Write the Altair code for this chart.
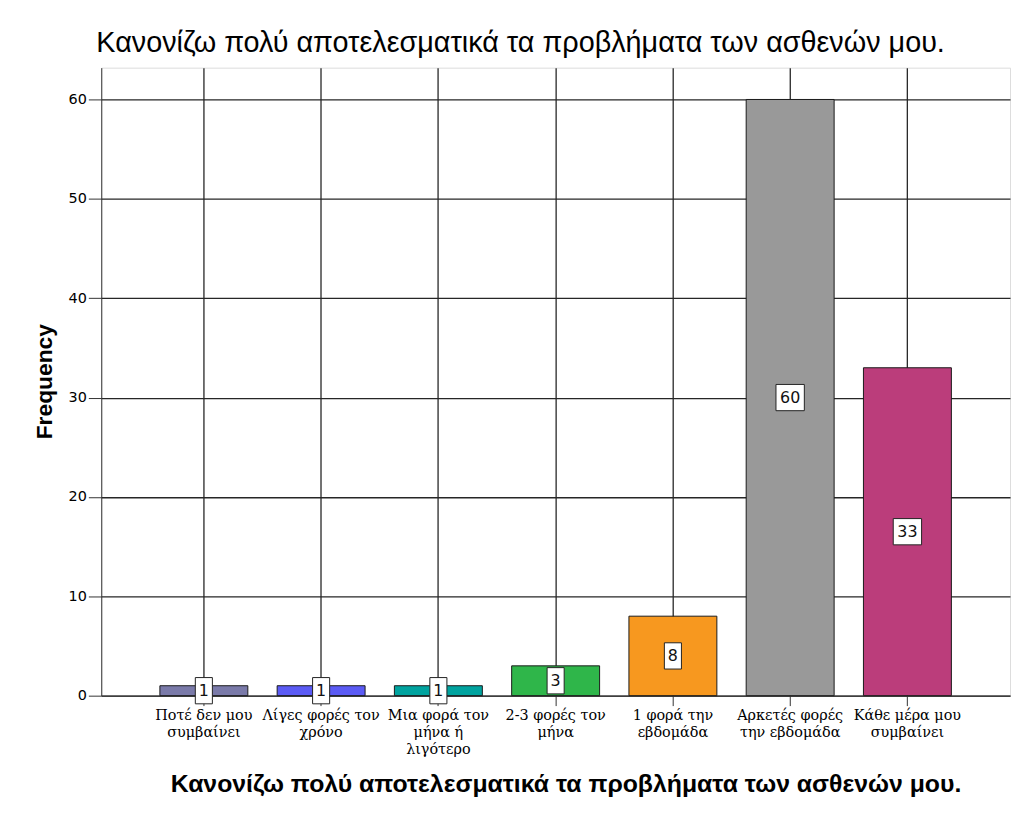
import json
import altair as alt
import pandas as pd

title_text = "Κανονίζω πολύ αποτελεσματικά τα προβλήματα των ασθενών μου."
categories = [
    "Ποτέ δεν μου συμβαίνει",
    "Λίγες φορές τον χρόνο",
    "Μια φορά τον μήνα ή λιγότερο",
    "2-3 φορές τον μήνα",
    "1 φορά την εβδομάδα",
    "Αρκετές φορές την εβδομάδα",
    "Κάθε μέρα μου συμβαίνει",
]
label_lines = [
    ["Ποτέ δεν μου", "συμβαίνει"],
    ["Λίγες φορές τον", "χρόνο"],
    ["Μια φορά τον", "μήνα ή", "λιγότερο"],
    ["2-3 φορές τον", "μήνα"],
    ["1 φορά την", "εβδομάδα"],
    ["Αρκετές φορές", "την εβδομάδα"],
    ["Κάθε μέρα μου", "συμβαίνει"],
]
frequencies = [1, 1, 1, 3, 8, 60, 33]
bar_colors = ["#7a7aa9", "#5b5bf5", "#00a39f", "#2fb64a", "#f7981f", "#999999", "#bb3d7b"]
y_ticks = [0, 10, 20, 30, 40, 50, 60]

df = pd.DataFrame({"category": categories, "freq": frequencies})

label_map = json.dumps(dict(zip(categories, label_lines)), ensure_ascii=False)
label_expr = f"({label_map})[datum.label]"

x_axis = alt.Axis(
    title=title_text,
    labelExpr=label_expr,
    labelAngle=0,
    labelFont="DejaVu Serif",
    labelFontSize=14.5,
    labelLineHeight=17,
    labelColor="#000000",
    labelPadding=3,
    labelOverlap=False,
    labelLimit=300,
    tickSize=10,
    tickColor="#333333",
    domainColor="#333333",
    grid=True,
    gridColor="#262626",
    gridWidth=1.3,
    titleFont="Liberation Sans",
    titleFontSize=25,
    titleFontWeight="bold",
    titleColor="#000000",
    titleX=468,
    titleY=97,
    titleBaseline="alphabetic",
    titleAlign="center",
)
y_axis = alt.Axis(
    values=y_ticks,
    title="Frequency",
    titleFont="Liberation Sans",
    titleFontSize=23,
    titleFontWeight="bold",
    titleColor="#000000",
    titleX=-57,
    titleY=316,
    titleAlign="center",
    titleBaseline="middle",
    titleAngle=-90,
    labelFont="DejaVu Sans",
    labelFontSize=14.5,
    labelColor="#000000",
    labelPadding=2,
    tickSize=13,
    tickColor="#333333",
    domainColor="#333333",
    grid=True,
    gridColor="#262626",
    gridWidth=1.3,
)

x_enc = alt.X("category:N", sort=categories,
              scale=alt.Scale(paddingInner=0.25, paddingOuter=0.5), axis=x_axis)
y_scale = alt.Scale(domain=[0, 63.2], nice=False)

bars = alt.Chart().mark_bar(stroke="#1a1a1a", strokeWidth=1).encode(
    x=x_enc,
    y=alt.Y("freq:Q", scale=y_scale, axis=y_axis),
    color=alt.Color("category:N", scale=alt.Scale(domain=categories, range=bar_colors), legend=None),
)

box_paths = ["M-0.65,-1L0.65,-1L0.65,1L-0.65,1Z", "M-1.08,-1L1.08,-1L1.08,1L-1.08,1Z"]

base_lbl = alt.Chart().transform_calculate(
    mid="datum.freq / 2",
    digits="toString(length(toString(datum.freq)))",
)

boxes = base_lbl.mark_point(filled=True, fill="white", stroke="#222222", strokeWidth=1,
                            opacity=1, fillOpacity=1, strokeOpacity=1).encode(
    x=x_enc,
    y=alt.Y("mid:Q", scale=y_scale, axis=y_axis),
    shape=alt.Shape("digits:N", scale=alt.Scale(domain=["1", "2"], range=box_paths), legend=None),
    size=alt.value(700),
)

texts = base_lbl.mark_text(font="DejaVu Sans", fontSize=16, color="#111111", baseline="middle").encode(
    x=x_enc,
    y=alt.Y("mid:Q", scale=y_scale, axis=y_axis),
    text="freq:Q",
)

chart = alt.layer(bars, boxes, texts, data=df).properties(
    width=916,
    height=633,
    padding={"left": 94, "top": 57, "right": 2, "bottom": 100},
    autosize=alt.AutoSizeParams(type="none"),
    title=alt.TitleParams(text=title_text, anchor="start", frame="group", dx=-5, fontSize=29,
                          font="Liberation Sans", fontWeight="normal", color="#000000", offset=10),
).configure_view(stroke=None, fill="#f0f0f0").configure(background="white")

chart.save("out.html", embed_options={"renderer": "svg", "actions": False})
